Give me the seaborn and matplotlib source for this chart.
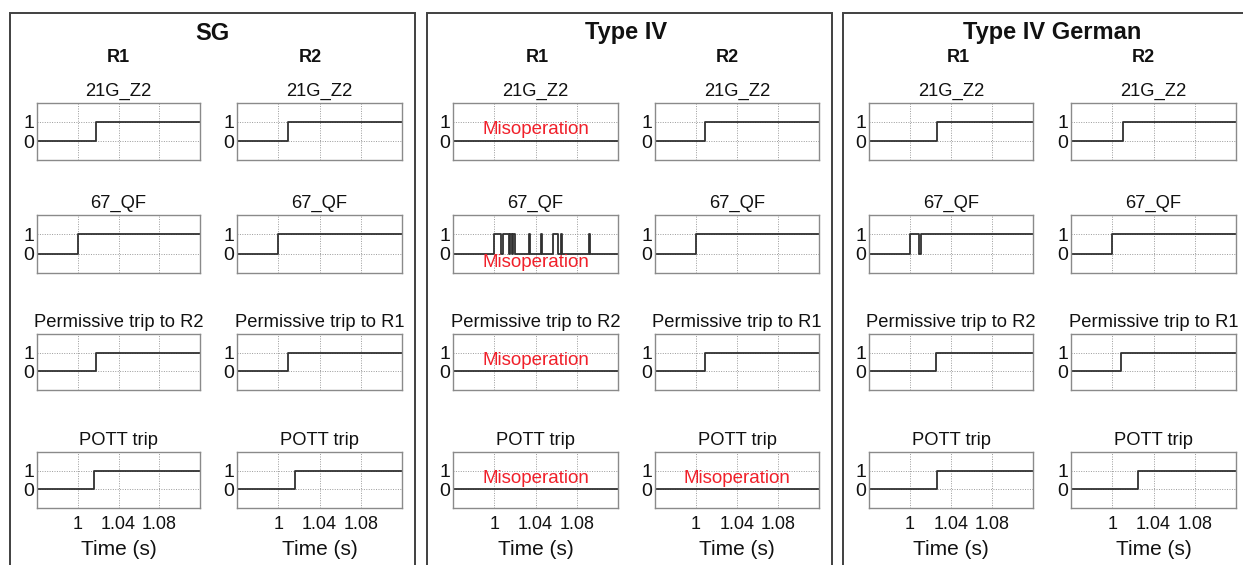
import matplotlib
matplotlib.use("Agg")
import matplotlib.pyplot as plt
from matplotlib.patches import Rectangle
import seaborn as sns
import pandas as pd

# ---------------- data ----------------
schemes = ["SG", "Type IV", "Type IV German"]
relays = ["R1", "R2"]
signal_titles_r1 = ["21G_Z2", "67_QF", "Permissive trip to R2", "POTT trip"]
signal_titles_r2 = ["21G_Z2", "67_QF", "Permissive trip to R1", "POTT trip"]
time_ticks = [1.0, 1.04, 1.08]
time_tick_labels = ["1", "1.04", "1.08"]
state_ticks = [0, 1]
t_start, t_end = 0.96, 1.12

# toggle instants (s) of each binary signal, starting from state 0
sg_r1 = [[1.018], [1.000], [1.018], [1.016]]
sg_r2 = [[1.009], [1.000], [1.009], [1.016]]
t4_r1 = [[],
         [1.000, 1.0068, 1.0085, 1.014, 1.0153, 1.0173, 1.0185, 1.0198,
          1.0335, 1.0348, 1.0452, 1.0465, 1.057, 1.0615, 1.0647, 1.066,
          1.0914, 1.0927],
         [], []]
t4_r2 = [[1.009], [1.000], [1.009], []]
de_r1 = [[1.026], [1.000, 1.0085, 1.0105], [1.025], [1.026]]
de_r2 = [[1.010], [1.000], [1.008], [1.025]]

# misoperation flags per signal row
misop_t4_r1 = [True, True, True, True]
misop_t4_r2 = [False, False, False, True]

edges_all = {("SG", "R1"): sg_r1, ("SG", "R2"): sg_r2,
             ("Type IV", "R1"): t4_r1, ("Type IV", "R2"): t4_r2,
             ("Type IV German", "R1"): de_r1, ("Type IV German", "R2"): de_r2}
misop_all = {("Type IV", "R1"): misop_t4_r1, ("Type IV", "R2"): misop_t4_r2}

# ---------------- style ----------------
sns.set_style("white")
plt.rcParams['font.family'] = ['Liberation Sans', 'DejaVu Sans']

W, H = 1243, 565
fig = plt.figure(figsize=(W / 100, H / 100), dpi=100)

rows_px = [(103, 160), (215, 273), (334, 390), (452, 508)]
cols_px = {"SG": [(37, 200), (237, 402)],
           "Type IV": [(453, 618), (655, 819)],
           "Type IV German": [(869, 1033), (1071, 1236)]}
frames_px = {"SG": (10, 415), "Type IV": (427, 832), "Type IV German": (843, 1260)}
title_x_px = {"SG": 212, "Type IV": 626, "Type IV German": 1052}
relay_x_px = {"SG": (118, 310), "Type IV": (537, 727), "Type IV German": (958, 1143)}

line_col = "#303030"
red = "#f0202a"
txt = "#111111"


def signal_frame(edges):
    xs = [t_start] + list(edges) + [t_end]
    ys = [0] + [(i + 1) % 2 for i in range(len(edges))]
    ys.append(ys[-1])
    return pd.DataFrame({"t": xs, "s": ys})


for scheme in schemes:
    fx0, fx1 = frames_px[scheme]
    fig.patches.append(Rectangle((fx0 / W, 1 - 600 / H), (fx1 - fx0) / W, (600 - 13) / H,
                                 transform=fig.transFigure, fill=False,
                                 edgecolor="#404040", linewidth=1.4, clip_on=False))
    fig.text(title_x_px[scheme] / W, 1 - 33 / H, scheme, ha="center", va="center",
             fontsize=17, fontweight="bold", color=txt)
    for ci, relay in enumerate(relays):
        x0, x1 = cols_px[scheme][ci]
        fig.text(relay_x_px[scheme][ci] / W, 1 - 57 / H, relay, ha="center", va="center",
                 fontsize=13, fontweight="bold", color=txt)
        titles = signal_titles_r1 if relay == "R1" else signal_titles_r2
        edges_list = edges_all[(scheme, relay)]
        misop = misop_all.get((scheme, relay), [False] * 4)
        for ri, (y0, y1) in enumerate(rows_px):
            ax = fig.add_axes([x0 / W, 1 - y1 / H, (x1 - x0) / W, (y1 - y0) / H])
            df = signal_frame(edges_list[ri])
            sns.lineplot(data=df, x="t", y="s", ax=ax, drawstyle="steps-post",
                         estimator=None, sort=False, color=line_col, linewidth=1.3)
            ax.set_xlim(t_start, t_end)
            ax.set_ylim(-1, 2)
            ax.set_xticks(time_ticks)
            ax.set_yticks(state_ticks)
            ax.set_yticklabels([str(v) for v in state_ticks], fontsize=14)
            ax.grid(True, linestyle=(0, (1, 1.5)), color="#9a9a9a", linewidth=0.7)
            for sp in ax.spines.values():
                sp.set_color("#8a8a8a")
                sp.set_linewidth(1.0)
            ax.tick_params(axis="y", length=0, pad=2, labelcolor=txt)
            ax.tick_params(axis="x", length=2.5, color="#8a8a8a", pad=3,
                           labelcolor=txt)
            ax.set_ylabel("")
            if ri == len(rows_px) - 1:
                ax.set_xticklabels(time_tick_labels, fontsize=13)
                ax.set_xlabel("Time (s)", fontsize=15, labelpad=5, color=txt)
            else:
                ax.set_xticklabels([])
                ax.set_xlabel("")
            ax.set_title(titles[ri], fontsize=13.2, pad=5, color=txt)
            if misop[ri]:
                ty = -0.45 if ri == 1 else 0.6
                ax.text(0.5 * (t_start + t_end), ty, "Misoperation", color=red,
                        fontsize=13.5, ha="center", va="center")

fig.savefig("out.png", dpi=100)
